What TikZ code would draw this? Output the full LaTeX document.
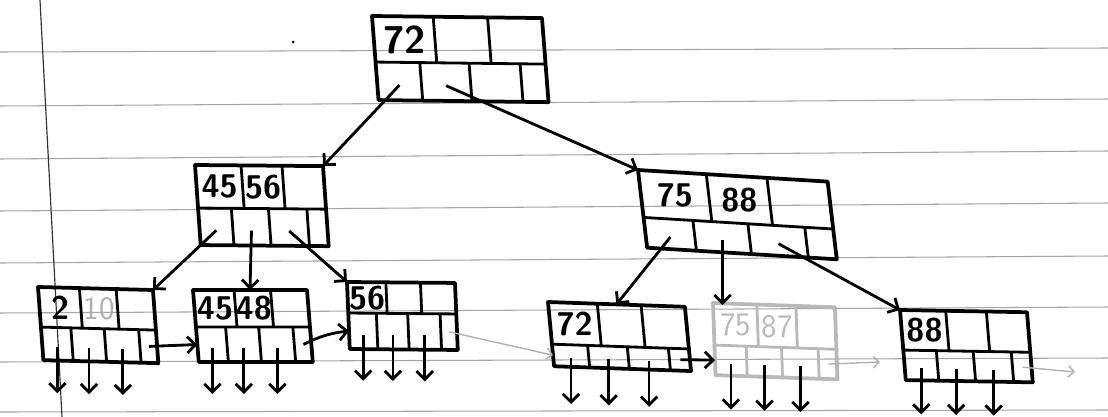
\documentclass[tikz,border=0pt]{standalone}
\usepackage{fontspec}
\usetikzlibrary{calc,arrows.meta}

\tikzset{
  boxline/.style={line width=3.2pt,line join=round},
  cellline/.style={line width=2.4pt},
  keyfont/.style={font=\sffamily\bfseries\fontsize{28}{28}\selectfont},
  ptr/.style={-{Straight Barb[length=7pt,width=14pt]},line width=2.4pt},
  faint/.style={-{Straight Barb[length=5pt,width=10pt]},line width=1.2pt,gray!60},
  rule/.style={line width=0.9pt,gray!70}
}

% #1 name, #2 scope options, #3 width, #4 key row, #5 pointer row, #6 #7 keys
\newcommand{\bnode}[7]{%
  \begin{scope}[#2]
    \draw[boxline] (0,0) rectangle (#3,#4+#5);
    \draw[cellline] (0,#4) -- (#3,#4)
      (0.36*#3,0) -- (0.36*#3,#4) (0.68*#3,0) -- (0.68*#3,#4)
      (0.26*#3,#4) -- (0.26*#3,#4+#5) (0.55*#3,#4) -- (0.55*#3,#4+#5)
      (0.85*#3,#4) -- (0.85*#3,#4+#5);
    \node[keyfont] (#1-k1) at (0.18*#3,#4/2) {#6};
    \node[keyfont] (#1-k2) at (0.52*#3,#4/2) {#7};
    \coordinate (#1-tl) at (0,0);
    \coordinate (#1-tr) at (#3,0);
    \coordinate (#1-top) at (0.5*#3,0);
    \coordinate (#1-left) at (0,#4+0.5*#5);
    \coordinate (#1-last) at (0.93*#3,#4+0.5*#5);
    \coordinate (#1-p1) at (0.13*#3,#4+0.6*#5);
    \coordinate (#1-p2) at (0.405*#3,#4+0.6*#5);
    \coordinate (#1-p3) at (0.7*#3,#4+0.6*#5);
  \end{scope}}

\begin{document}
\begin{tikzpicture}[x=0.03cm,y=-0.03cm]
  \useasboundingbox (0,0) rectangle (1108,417);
  \fill[white] (0,0) rectangle (1108,417);

  % ruled paper
  \foreach \l/\r in {52/48,106/99,159/151,211/203,263/256,313/307,362/358,412/410}
    \draw[rule] (0,\l) -- (1108,\r);
  \draw[line width=1pt,black!80] (40,0) -- (62,417);
  \fill (293,42) circle (1.5);

  % tree nodes
  \bnode{root}{shift={(372,16)},rotate=-0.7,xslant=-0.09,
    keyfont/.style={font=\sffamily\bfseries\fontsize{33}{33}\selectfont}}{170}{46}{38}{72}{}
  \bnode{li}{shift={(195,165)},rotate=-0.5,xslant=-0.08}{128}{43}{37}{45}{56}
  \bnode{ri}{shift={(638,170)},rotate=-3.5,xslant=-0.18}{190}{47}{30}{75}{88}

  \bnode{la}{shift={(38,287)},rotate=-1.5,xslant=-0.1}{115}{40}{33}{2}{\color{gray!60}\mdseries 10}
  \bnode{lb}{shift={(193,290)},xslant=-0.08}{114}{37}{35}{45}{48}
  \bnode{lc}{shift={(347,282)},rotate=-0.5,xslant=-0.05}{108}{31}{36}{56}{}
  \bnode{ld}{shift={(548,302)},rotate=-2,xslant=-0.13}{137}{42}{22}{72}{}
  \bnode{le}{shift={(713,303)},rotate=-2,xslant=-0.07,gray!55,
    keyfont/.style={font=\sffamily\fontsize{28}{28}\selectfont}}{122}{42}{30}{75}{87}
  \bnode{lf}{shift={(900,310)},rotate=-1,xslant=-0.1}{127}{40}{30}{88}{}

  % child pointers
  \draw[ptr] (root-p1) -- (li-tr);
  \draw[ptr] (root-p2) -- (ri-tl);
  \draw[ptr] (li-p1) -- (la-tr);
  \draw[ptr] (li-p2) -- (lb-top);
  \draw[ptr] (li-p3) -- (lc-tl);
  \draw[ptr] (ri-p1) -- (ld-top);
  \draw[ptr] (ri-p2) -- (ri-p2 |- le-top);
  \draw[ptr] (ri-p3) -- (lf-tl);

  % records below the leaves
  \foreach \n in {la,lb,lc,ld,le,lf}
    \foreach \i in {1,2,3}
      \draw[ptr] (\n-p\i) -- ++(0,46);

  % leaf chain
  \coordinate (e5) at (880,362);
  \coordinate (e6) at (1075,372);
  \draw[ptr] (la-last) -- (lb-left);
  \draw[ptr] (lb-last) to[bend left=10] (lc-left);
  \draw[faint] (lc-last) -- (ld-left);
  \draw[ptr] (ld-last) -- (le-left);
  \draw[faint] (le-last) -- (e5);
  \draw[faint] (lf-last) -- (e6);
\end{tikzpicture}
\end{document}
